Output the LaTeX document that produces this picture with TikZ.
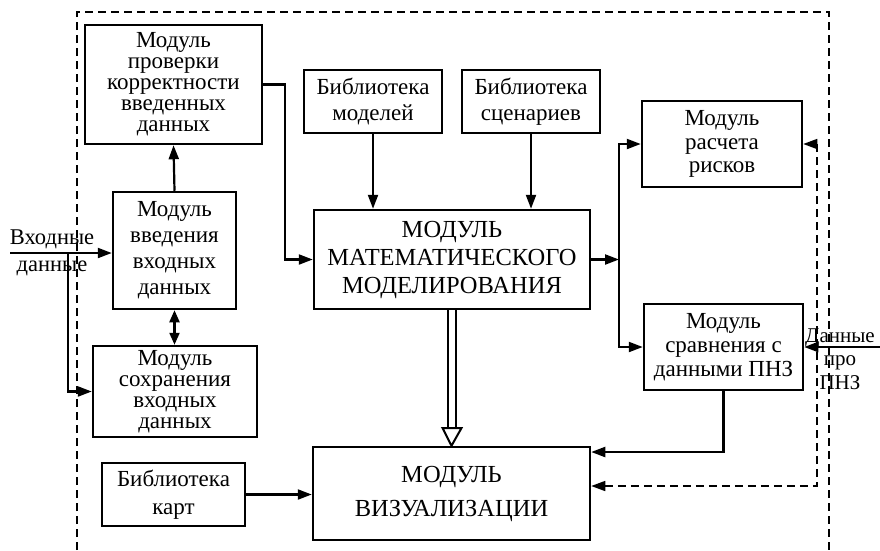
\documentclass[tikz,border=0pt]{standalone}
\usepackage{fontspec}
\setmainfont{Liberation Serif}
\usetikzlibrary{arrows.meta}
\begin{document}
\begin{tikzpicture}[x=1pt,y=-1pt,
  box/.style={draw, line width=2.5pt, align=center, inner sep=1pt},
  fs/.style={font=\fontsize{23}{#1}\selectfont},
  bs/.style={font=\fontsize{24.5}{#1}\selectfont},
  arr/.style={line width=2.2pt, -{Triangle[length=14pt,width=10pt]}},
  darr/.style={line width=2.2pt, {Triangle[length=12pt,width=10pt]}-{Triangle[length=12pt,width=10pt]}},
  dsh/.style={line width=1.6pt, dash pattern=on 8pt off 5pt},
  dshar/.style={dsh, {Triangle[length=14pt,width=10pt]}-{Triangle[length=14pt,width=10pt]}},
  lbl/.style={align=center, inner sep=0pt}
]
\useasboundingbox (0,0) rectangle (880,550);

% outer dashed frame
\draw[dsh] (77,550) -- (77,12) -- (829,12) -- (829,550);

% boxes
\node[box, fs=21pt, minimum width=177pt, minimum height=119pt] (chk) at (173.5,84.5)
  {Модуль\\проверки\\корректности\\введенных\\данных};
\node[box, fs=26pt, minimum width=123pt, minimum height=117pt] (inp) at (174.5,250.5)
  {Модуль\\введения\\входных\\данных};
\node[box, fs=21pt, minimum width=164pt, minimum height=91pt] (sav) at (175,391.5)
  {Модуль\\сохранения\\входных\\данных};
\node[box, fs=26pt, minimum width=138pt, minimum height=63pt] (libm) at (373,101.5)
  {Библиотека\\моделей};
\node[box, fs=26pt, minimum width=138pt, minimum height=63pt] (libs) at (531,101.5)
  {Библиотека\\сценариев};
\node[box, bs=28pt, minimum width=276pt, minimum height=99pt] (mm) at (452,259.5)
  {МОДУЛЬ\\МАТЕМАТИЧЕСКОГО\\МОДЕЛИРОВАНИЯ};
\node[box, fs=23.5pt, minimum width=160pt, minimum height=86pt] (risk) at (722,144)
  {Модуль\\расчета\\рисков};
\node[box, fs=24pt, minimum width=159pt, minimum height=86pt] (cmp) at (723.5,347)
  {Модуль\\сравнения с\\данными ПНЗ};
\node[box, bs=34pt, minimum width=277pt, minimum height=93pt] (vis) at (451.5,493.5)
  {МОДУЛЬ\\ВИЗУАЛИЗАЦИИ};
\node[box, fs=28pt, minimum width=143pt, minimum height=63pt] (libk) at (173.5,494.5)
  {Библиотека\\карт};

% labels
\node[lbl, font=\fontsize{22.5}{27pt}\selectfont] (inlbl) at (52,252.5) {Входные\\данные};
\node[lbl, font=\fontsize{21}{23.5pt}\selectfont] (pnzlbl) at (840,359) {Данные\\про\\ПНЗ};

% coordinates
\coordinate (inL) at (10,253);
\coordinate (br) at (68,253);
\coordinate (chkbend) at (285,84.5);
\coordinate (sp) at (619,259.5);
\coordinate (dk) at (817,144);
\coordinate (pnzR) at (880,347);
\coordinate (tb) at (452,428);

% connectors
\draw[arr] (inL) -- (inL -| inp.west);
\draw[arr] (br) |- (sav.west);
\draw[arr] (inp.north) -- (chk.south);
\draw[darr] (inp.south) -- (inp.south |- sav.north);
\draw[arr] (chk.east) -- (chkbend) |- (mm.west);
\draw[arr] (libm.south) -- (libm.south |- mm.north);
\draw[arr] (libs.south) -- (libs.south |- mm.north);
\draw[arr] (mm.east) -- (sp);
\draw[arr] (sp) |- (risk.west);
\draw[arr] (sp) |- (cmp.west);
\draw[arr] (cmp.south) |- ([yshift=41.5pt]vis.east);
\draw[arr] (pnzR) -- (cmp.east);
\draw[arr] (libk.east) -- (libk.east -| vis.west);
\draw[dshar] ([yshift=7.5pt]vis.east) -| (dk) -- (risk.east);

% double arrow MM -> visualisation
\draw[line width=2pt, double, double distance=6pt] (mm.south) -- (tb);
\draw[line width=2pt, fill=white, line join=miter] ([xshift=-9.5pt]tb) -- ([xshift=9.5pt]tb) -- (vis.north) -- cycle;
\end{tikzpicture}
\end{document}
